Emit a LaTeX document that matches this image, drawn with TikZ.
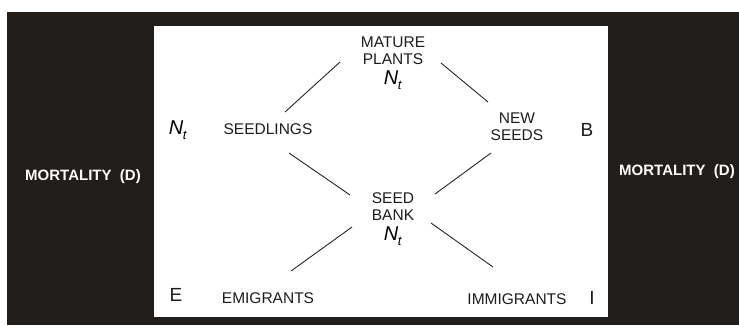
\documentclass[tikz,border=0pt]{standalone}
\usepackage{fontspec}
\setmainfont{Liberation Sans}
\definecolor{bgdark}{RGB}{34,30,27}
\definecolor{ink}{RGB}{28,28,28}
\newcommand{\Nsub}{{\fontsize{20}{20}\selectfont\textit{N}\kern-0.5pt\raisebox{-0.28em}{\fontsize{13}{13}\selectfont\textit{t}}}}
\tikzset{
  lbl/.style={inner sep=0pt, text=ink, font=\fontsize{15.5}{17}\selectfont, align=center},
  big/.style={inner sep=0pt, text=ink, font=\fontsize{19}{19}\selectfont},
  mort/.style={inner sep=0pt, text=white, font=\bfseries\fontsize{15}{16}\selectfont},
  conn/.style={draw=ink, line width=0.85pt}
}
\begin{document}
\begin{tikzpicture}[x=1pt,y=-1pt]
\useasboundingbox (0,0) rectangle (739,325);
\fill[white] (0,0) rectangle (739,325);
\fill[bgdark] (7,12) rectangle (739,325);
\fill[white] (154,26) rectangle (608,317);
% labels
\node[lbl] (mature) at (393,50.5) {MATURE\\PLANTS};
\node[inner sep=0pt] (matureN) at (393,80) {\Nsub};
\node[lbl] (seedlings) at (268,129) {SEEDLINGS};
\node[inner sep=0pt] (seedlingsN) at (178,130) {\Nsub};
\node[lbl] (newseeds) at (517,127) {NEW\\SEEDS};
\node[big] (B) at (587,130) {B};
\node[lbl] (seedbank) at (393,206.5) {SEED\\BANK};
\node[inner sep=0pt] (seedbankN) at (393,236) {\Nsub};
\node[big] (E) at (176,295) {E};
\node[lbl] (emigrants) at (268,298) {EMIGRANTS};
\node[lbl] (immigrants) at (517,299) {IMMIGRANTS};
\node[big] (I) at (592,298) {I};
\node[mort] (mortL) at (83,177) {MORTALITY\ \ (D)};
\node[mort] (mortR) at (677,172) {MORTALITY\ \ (D)};
% connector ends
\coordinate (a1) at (340,62);  \coordinate (a2) at (285,112);
\coordinate (b1) at (441,63);  \coordinate (b2) at (488,102);
\coordinate (c1) at (491,153); \coordinate (c2) at (435,194);
\coordinate (d1) at (289,153); \coordinate (d2) at (350,195);
\coordinate (e1) at (352,227); \coordinate (e2) at (291,271);
\coordinate (f1) at (431,223); \coordinate (f2) at (493,267);
\draw[conn] (a1) -- (a2);
\draw[conn] (b1) -- (b2);
\draw[conn] (c1) -- (c2);
\draw[conn] (d1) -- (d2);
\draw[conn] (e1) -- (e2);
\draw[conn] (f1) -- (f2);
\end{tikzpicture}
\end{document}
